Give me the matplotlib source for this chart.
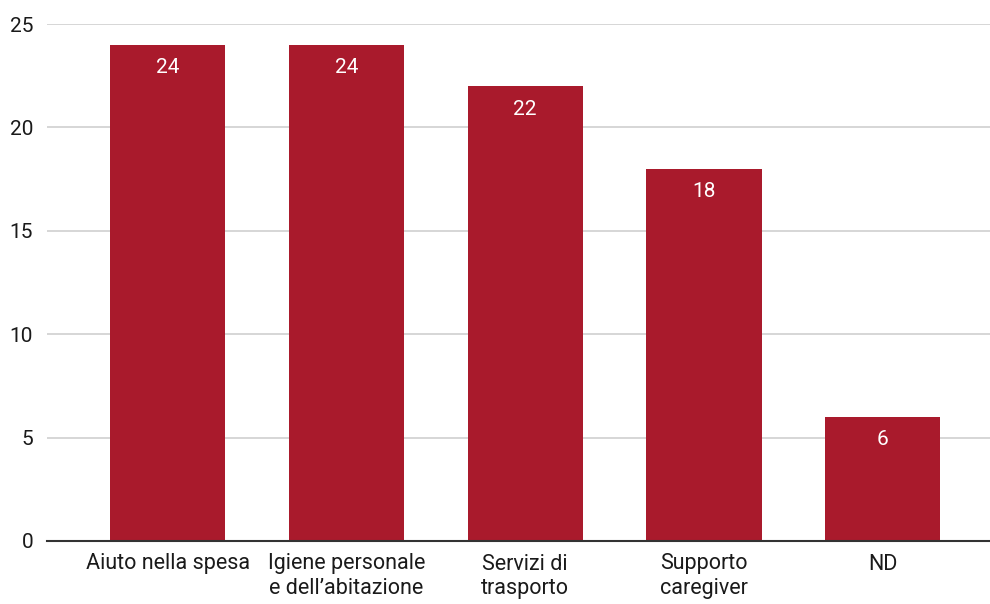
import matplotlib.pyplot as plt

plt.rcParams['font.family'] = ['Roboto', 'DejaVu Sans']

categories = ["Aiuto nella spesa", "Igiene personale\ne dell\u2019abitazione",
              "Servizi di\ntrasporto", "Supporto\ncaregiver", "ND"]
values = [24, 24, 22, 18, 6]
yticks = [0, 5, 10, 15, 20, 25]

bar_color = "#A91A2C"

fig = plt.figure(figsize=(9.9, 6.04), dpi=100)
ax = fig.add_axes([47 / 990, 63 / 604, 943 / 990, 517 / 604])

x = list(range(len(categories)))
bars = ax.bar(x, values, width=0.645, color=bar_color, zorder=3)

# value labels sit just inside the top of each bar
for rect, v in zip(bars, values):
    ax.annotate(str(v), (rect.get_x() + rect.get_width() / 2, v),
                xytext=(0, -23), textcoords="offset pixels",
                ha="center", va="center", color="white", fontsize=15, zorder=4)

ax.set_xlim(-0.675, 4.60)
ax.set_ylim(0, 25)
ax.set_yticks(yticks)
ax.set_xticks(x)
ax.set_xticklabels(categories, fontsize=15.5, linespacing=1.2, va="top")
ax.tick_params(axis="y", labelsize=15, length=0, pad=10, colors="#1a1a1a")
ax.tick_params(axis="x", length=0, pad=9, colors="#1a1a1a")

ax.yaxis.grid(True, color="#cccccc", linewidth=1.1, zorder=0)
for side in ["left", "right", "top"]:
    ax.spines[side].set_visible(False)
ax.spines["bottom"].set_color("#333333")
ax.spines["bottom"].set_linewidth(1.5)
ax.spines["bottom"].set_zorder(5)

fig.savefig("out.png", dpi=100)
